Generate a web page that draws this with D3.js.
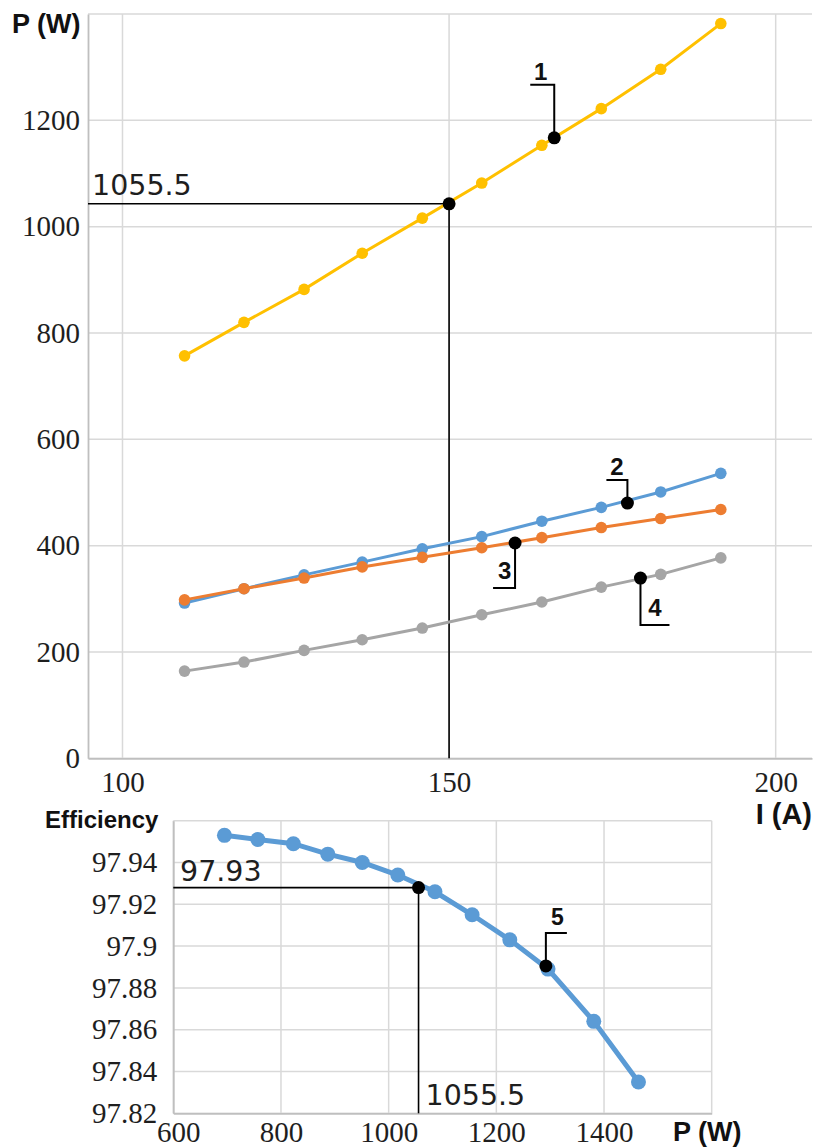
<!DOCTYPE html>
<html>
<head>
<meta charset="utf-8">
<script src="https://cdnjs.cloudflare.com/ajax/libs/d3/7.8.5/d3.min.js"></script>
<style>
html,body{margin:0;padding:0;background:#fff;}
svg{display:block;}
</style>
</head>
<body>
<svg id="chart" width="814" height="1147"></svg>
<script>
// ---------- DATA (top chart: power vs current) ----------
const currentA   = [109.5, 118.6, 127.8, 136.7, 145.9, 155.0, 164.2, 173.3, 182.4, 191.6];
const seriesP1   = [757, 820, 882, 950, 1016, 1082, 1153, 1222, 1296, 1382]; // yellow
const seriesP2   = [292, 319, 345, 369, 394, 417, 446, 472, 501, 536];        // blue
const seriesP3   = [298, 319, 339, 360, 378, 396, 415, 434, 451, 468];        // orange
const seriesP4   = [164, 181, 203, 223, 245, 270, 294, 322, 346, 377];        // gray
const topXTicks  = [100, 150, 200];
const topYTicks  = [0, 200, 400, 600, 800, 1000, 1200];
const topYGrid   = [0, 200, 400, 600, 800, 1000, 1200, 1400];
// marked points on the top chart
const markI      = [166.1, 177.3, 160.1, 179.3];
const markP      = [1167, 480, 405, 339];
const markLabels = ["1", "2", "3", "4"];
const refI = 150, refP = 1043, refLabelTop = "1055.5";

// ---------- DATA (bottom chart: efficiency vs power) ----------
const effP    = [695, 757, 823, 887, 951, 1017, 1086, 1155, 1225, 1296, 1381, 1464];
const effVal  = [97.953, 97.951, 97.949, 97.944, 97.940, 97.934, 97.926, 97.915, 97.903, 97.889, 97.864, 97.835];
const botXTicks = [600, 800, 1000, 1200, 1400];
const botXGrid  = [600, 800, 1000, 1200, 1400, 1600];
const botYTicks = [97.82, 97.84, 97.86, 97.88, 97.90, 97.92, 97.94];
const botYGrid  = [97.82, 97.84, 97.86, 97.88, 97.90, 97.92, 97.94, 97.96];
const botYLabels = ["97.82", "97.84", "97.86", "97.88", "97.9", "97.92", "97.94"];
const mark5P = 1292, mark5E = 97.8905, mark5Label = "5";
const refEffP = 1055.5, refEff = 97.928, refEffLabel = "97.93", refEffPLabel = "1055.5";

// ---------- STYLE ----------
const gridColor = "#d9d9d9", axisColor = "#bfbfbf", textColor = "#1e1e1e";
const serifFont = "'Liberation Serif', 'DejaVu Serif', serif";
const sansFont = "'Liberation Sans', Arial, sans-serif";
const annoFont = "'DejaVu Sans', sans-serif";
const colors = { p1: "#FFC000", p2: "#5B9BD5", p3: "#ED7D31", p4: "#A5A5A5" };

const svg = d3.select("#chart");

// ---------- TOP CHART ----------
const xT = d3.scaleLinear().domain([94.72, 205.56]).range([88, 812]);
const yT = d3.scaleLinear().domain([0, 1400]).range([758.3, 14]);
const gTop = svg.append("g");

gTop.append("g").selectAll("line").data(topYGrid).join("line")
  .attr("x1", xT.range()[0]).attr("x2", xT.range()[1])
  .attr("y1", d => yT(d)).attr("y2", d => yT(d))
  .attr("stroke", gridColor).attr("stroke-width", 1.5);
gTop.append("g").selectAll("line").data(topXTicks).join("line")
  .attr("x1", d => xT(d)).attr("x2", d => xT(d))
  .attr("y1", yT(0)).attr("y2", yT(1400))
  .attr("stroke", gridColor).attr("stroke-width", 1.5);

const axTY = gTop.append("g").attr("transform", `translate(${xT.range()[0]},0)`)
  .call(d3.axisLeft(yT).tickValues(topYTicks).tickSize(0).tickPadding(8).tickFormat(d3.format("d")));
const axTX = gTop.append("g").attr("transform", `translate(0,${yT(0)})`)
  .call(d3.axisBottom(xT).tickValues(topXTicks).tickSize(0).tickPadding(13).tickFormat(d3.format("d")));
[axTY, axTX].forEach(a => {
  a.select(".domain").attr("stroke", axisColor).attr("stroke-width", 1.8);
  a.selectAll("text").attr("font-family", serifFont).attr("font-size", 29).attr("fill", textColor);
});

gTop.append("line").attr("x1", xT.range()[0]).attr("x2", xT(refI))
  .attr("y1", yT(refP)).attr("y2", yT(refP)).attr("stroke", "#000").attr("stroke-width", 1.6);
gTop.append("line").attr("x1", xT(refI)).attr("x2", xT(refI))
  .attr("y1", yT(refP)).attr("y2", yT(0)).attr("stroke", "#000").attr("stroke-width", 1.6);
gTop.append("text").attr("x", 92).attr("y", yT(refP) - 9)
  .attr("font-family", annoFont).attr("font-size", 28.5).attr("fill", textColor).text(refLabelTop);

const topSeries = [
  { v: seriesP1, c: colors.p1 },
  { v: seriesP2, c: colors.p2 },
  { v: seriesP3, c: colors.p3 },
  { v: seriesP4, c: colors.p4 }
];
const lineT = d3.line().x(d => xT(d[0])).y(d => yT(d[1]));
topSeries.forEach(s => {
  const pts = currentA.map((x, i) => [x, s.v[i]]);
  const g = gTop.append("g");
  g.append("path").datum(pts).attr("d", lineT).attr("fill", "none")
    .attr("stroke", s.c).attr("stroke-width", 3);
  g.selectAll("circle").data(pts).join("circle")
    .attr("cx", d => xT(d[0])).attr("cy", d => yT(d[1])).attr("r", 5.8).attr("fill", s.c);
});

const leaders = [
  { dy: -53, dx: -24, tx: -13.5, ty: -58 },
  { dy: -23, dx: -21, tx: -10.5, ty: -28.5 },
  { dy: 45, dx: -22, tx: -10.5, ty: 36 },
  { dy: 47, dx: 29, tx: 14.5, ty: 38 }
];
markI.forEach((mi, i) => {
  const px = xT(mi), py = yT(markP[i]), L = leaders[i];
  gTop.append("path")
    .attr("d", `M${px},${py} L${px},${py + L.dy} L${px + L.dx},${py + L.dy}`)
    .attr("fill", "none").attr("stroke", "#000").attr("stroke-width", 2);
  gTop.append("circle").attr("cx", px).attr("cy", py).attr("r", 6.5).attr("fill", "#000");
  gTop.append("text").attr("x", px + L.tx).attr("y", py + L.ty).attr("text-anchor", "middle")
    .attr("font-family", sansFont).attr("font-weight", "bold").attr("font-size", 24)
    .attr("fill", "#111").text(markLabels[i]);
});
gTop.append("circle").attr("cx", xT(refI)).attr("cy", yT(refP)).attr("r", 6.5).attr("fill", "#000");

svg.append("text").attr("x", 12).attr("y", 33).attr("font-family", sansFont)
  .attr("font-weight", "bold").attr("font-size", 27).attr("fill", "#111").text("P (W)");
svg.append("text").attr("x", 812).attr("y", 824).attr("text-anchor", "end").attr("font-family", sansFont)
  .attr("font-weight", "bold").attr("font-size", 29).attr("fill", "#111").text("I (A)");

// ---------- BOTTOM CHART ----------
const xB = d3.scaleLinear().domain([600, 1600]).range([173.3, 711.7]);
const yB = d3.scaleLinear().domain([97.82, 97.96]).range([1113.3, 820.7]);
const gBot = svg.append("g");

gBot.append("g").selectAll("line").data(botYGrid).join("line")
  .attr("x1", xB(600)).attr("x2", xB(1600))
  .attr("y1", d => yB(d)).attr("y2", d => yB(d))
  .attr("stroke", gridColor).attr("stroke-width", 1.5);
gBot.append("g").selectAll("line").data(botXGrid).join("line")
  .attr("x1", d => xB(d)).attr("x2", d => xB(d))
  .attr("y1", yB(97.82)).attr("y2", yB(97.96))
  .attr("stroke", gridColor).attr("stroke-width", 1.5);

const axBY = gBot.append("g").attr("transform", `translate(${xB(600)},0)`)
  .call(d3.axisLeft(yB).tickValues(botYTicks).tickSize(0).tickPadding(16)
    .tickFormat((d, i) => botYLabels[i]));
const axBX = gBot.append("g").attr("transform", `translate(0,${yB(97.82)})`)
  .call(d3.axisBottom(xB).tickValues(botXTicks).tickSize(0).tickPadding(8).tickFormat(d3.format("d")));
[axBY, axBX].forEach(a => {
  a.select(".domain").attr("stroke", axisColor).attr("stroke-width", 1.8);
  a.selectAll("text").attr("font-family", serifFont).attr("font-size", 29).attr("fill", textColor);
});
axBX.selectAll(".tick").filter(d => d === 600).select("text").attr("dx", 5);

gBot.append("line").attr("x1", xB(600)).attr("x2", xB(refEffP))
  .attr("y1", yB(refEff)).attr("y2", yB(refEff)).attr("stroke", "#000").attr("stroke-width", 1.6);
gBot.append("line").attr("x1", xB(refEffP)).attr("x2", xB(refEffP))
  .attr("y1", yB(refEff)).attr("y2", yB(97.82)).attr("stroke", "#000").attr("stroke-width", 1.6);
gBot.append("text").attr("x", 180).attr("y", yB(refEff) - 7)
  .attr("font-family", annoFont).attr("font-size", 28.5).attr("fill", textColor).text(refEffLabel);
gBot.append("text").attr("x", xB(refEffP) + 7).attr("y", 1105)
  .attr("font-family", annoFont).attr("font-size", 28.5).attr("fill", textColor).text(refEffPLabel);

const effPts = effP.map((p, i) => [p, effVal[i]]);
const lineB = d3.line().x(d => xB(d[0])).y(d => yB(d[1]));
gBot.append("path").datum(effPts).attr("d", lineB).attr("fill", "none")
  .attr("stroke", colors.p2).attr("stroke-width", 5);
gBot.selectAll("circle.e").data(effPts).join("circle").attr("class", "e")
  .attr("cx", d => xB(d[0])).attr("cy", d => yB(d[1])).attr("r", 7.5).attr("fill", colors.p2);

gBot.append("circle").attr("cx", xB(refEffP)).attr("cy", yB(refEff)).attr("r", 6.5).attr("fill", "#000");
{
  const px = xB(mark5P), py = yB(mark5E);
  gBot.append("path").attr("d", `M${px},${py} L${px},${py - 33} L${px + 21},${py - 33}`)
    .attr("fill", "none").attr("stroke", "#000").attr("stroke-width", 2);
  gBot.append("circle").attr("cx", px).attr("cy", py).attr("r", 6.5).attr("fill", "#000");
  gBot.append("text").attr("x", px + 11.5).attr("y", py - 41).attr("text-anchor", "middle")
    .attr("font-family", sansFont).attr("font-weight", "bold").attr("font-size", 23)
    .attr("fill", "#111").text(mark5Label);
}

svg.append("text").attr("x", 45).attr("y", 828).attr("font-family", sansFont)
  .attr("font-weight", "bold").attr("font-size", 24).attr("fill", "#111").text("Efficiency");
svg.append("text").attr("x", 673).attr("y", 1141).attr("font-family", sansFont)
  .attr("font-weight", "bold").attr("font-size", 27).attr("fill", "#111").text("P (W)");
</script>
</body>
</html>
